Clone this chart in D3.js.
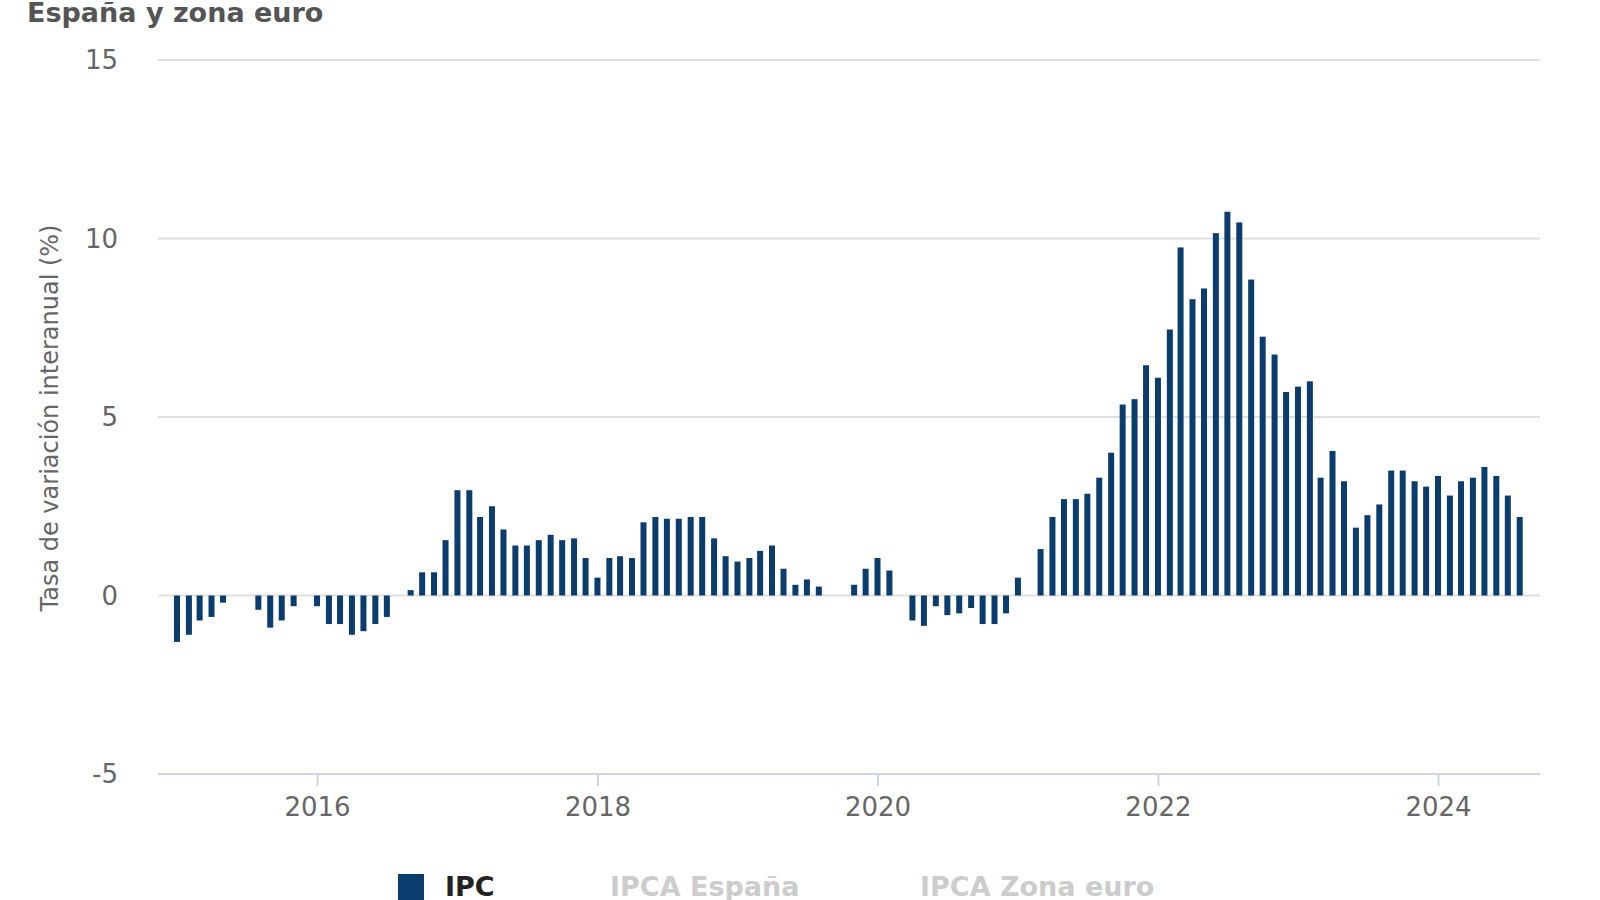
<!DOCTYPE html>
<html>
<head>
<meta charset="utf-8">
<script src="https://cdn.jsdelivr.net/npm/d3@7"></script>
<style>
  body { margin: 0; background: #fff; }
  svg text { font-family: "DejaVu Sans", Verdana, sans-serif; }
</style>
</head>
<body>
<div id="chart"></div>
<script>
// monthly IPC values, Jan 2015 .. Aug 2024
const startYear = 2015;
const ipc = [
  -1.3, -1.1, -0.7, -0.6, -0.2, 0, 0, -0.4, -0.9, -0.7, -0.3, 0,
  -0.3, -0.8, -0.8, -1.1, -1.0, -0.8, -0.6, 0, 0.15, 0.65, 0.65, 1.55,
  2.95, 2.95, 2.2, 2.5, 1.85, 1.4, 1.4, 1.55, 1.7, 1.55, 1.6, 1.05,
  0.5, 1.05, 1.1, 1.05, 2.05, 2.2, 2.15, 2.15, 2.2, 2.2, 1.6, 1.1,
  0.95, 1.05, 1.25, 1.4, 0.75, 0.3, 0.45, 0.25, 0, 0, 0.3, 0.75,
  1.05, 0.7, 0, -0.7, -0.85, -0.3, -0.55, -0.5, -0.35, -0.8, -0.8, -0.5,
  0.5, 0, 1.3, 2.2, 2.7, 2.7, 2.85, 3.3, 4.0, 5.35, 5.5, 6.45,
  6.1, 7.45, 9.75, 8.3, 8.6, 10.15, 10.75, 10.45, 8.85, 7.25, 6.75, 5.7,
  5.85, 6.0, 3.3, 4.05, 3.2, 1.9, 2.25, 2.55, 3.5, 3.5, 3.2, 3.05,
  3.35, 2.8, 3.2, 3.3, 3.6, 3.35, 2.8, 2.2
];
const yTicks = [-5, 0, 5, 10, 15];
const xTickYears = [2016, 2018, 2020, 2022, 2024];
const legendItems = ['IPC', 'IPCA España', 'IPCA Zona euro'];
const title = 'España y zona euro';
const yTitle = 'Tasa de variación interanual (%)';

const data = ipc.map((v, i) => ({ date: new Date(startYear, i, 1), v: v }));

const W = 1600, H = 900;
const left = 158, right = 1540;

const svg = d3.select('#chart').append('svg')
  .attr('width', W).attr('height', H);

const x = d3.scaleTime()
  .domain([new Date(2015, 0, 1), new Date(2024, 0, 1)])
  .range([177, 1438]);

const y = d3.scaleLinear().domain([-5, 15]).range([774, 60]);

// gridlines
svg.append('g').selectAll('line')
  .data(yTicks.filter(t => t !== -5))
  .enter().append('line')
  .attr('x1', left).attr('x2', right)
  .attr('y1', d => y(d)).attr('y2', d => y(d))
  .attr('stroke', '#e0e0e0').attr('stroke-width', 2);

// y labels
svg.append('g').selectAll('text')
  .data(yTicks)
  .enter().append('text')
  .attr('x', 118).attr('y', d => y(d) + 9)
  .attr('text-anchor', 'end')
  .attr('font-size', 26).attr('fill', '#666')
  .text(d => d);

// bottom axis
const xAxis = svg.append('g')
  .attr('transform', 'translate(0,' + y(-5) + ')')
  .call(d3.axisBottom(x)
    .tickValues(xTickYears.map(yr => new Date(yr, 0, 1)))
    .tickFormat(d3.timeFormat('%Y'))
    .tickSize(12).tickSizeOuter(0));
xAxis.select('.domain').attr('d', 'M' + left + ',0H' + right)
  .attr('stroke', '#ccd6e0').attr('stroke-width', 2);
xAxis.selectAll('.tick line').attr('stroke', '#ccd6e0').attr('stroke-width', 2);
xAxis.selectAll('.tick text')
  .attr('font-size', 26).attr('fill', '#666').attr('dy', '1.05em')
  .attr('font-family', '"DejaVu Sans", Verdana, sans-serif');

// bars
svg.append('g').selectAll('rect')
  .data(data)
  .enter().append('rect')
  .attr('x', d => x(d.date) - 3)
  .attr('width', 6)
  .attr('y', d => y(Math.max(0, d.v)))
  .attr('height', d => Math.abs(y(d.v) - y(0)))
  .attr('fill', '#0b3c6e');

// titles
svg.append('text')
  .attr('x', 27).attr('y', 22)
  .attr('font-size', 27).attr('font-weight', 'bold').attr('fill', '#555')
  .text(title);

svg.append('text')
  .attr('transform', 'translate(58,418) rotate(-90)')
  .attr('text-anchor', 'middle')
  .attr('font-size', 24).attr('fill', '#666')
  .text(yTitle);

// legend (near the bottom edge, as in the original)
const legendX = [445, 610, 920];
const legend = svg.append('g');
legend.append('rect')
  .attr('x', 398).attr('y', 874).attr('width', 26).attr('height', 26)
  .attr('fill', '#0b3c6e');
legend.selectAll('text')
  .data(legendItems)
  .enter().append('text')
  .attr('x', (d, i) => legendX[i]).attr('y', 896)
  .attr('font-size', 27).attr('font-weight', 'bold')
  .attr('fill', (d, i) => i === 0 ? '#222' : '#cccccc')
  .text(d => d);
</script>
</body>
</html>
